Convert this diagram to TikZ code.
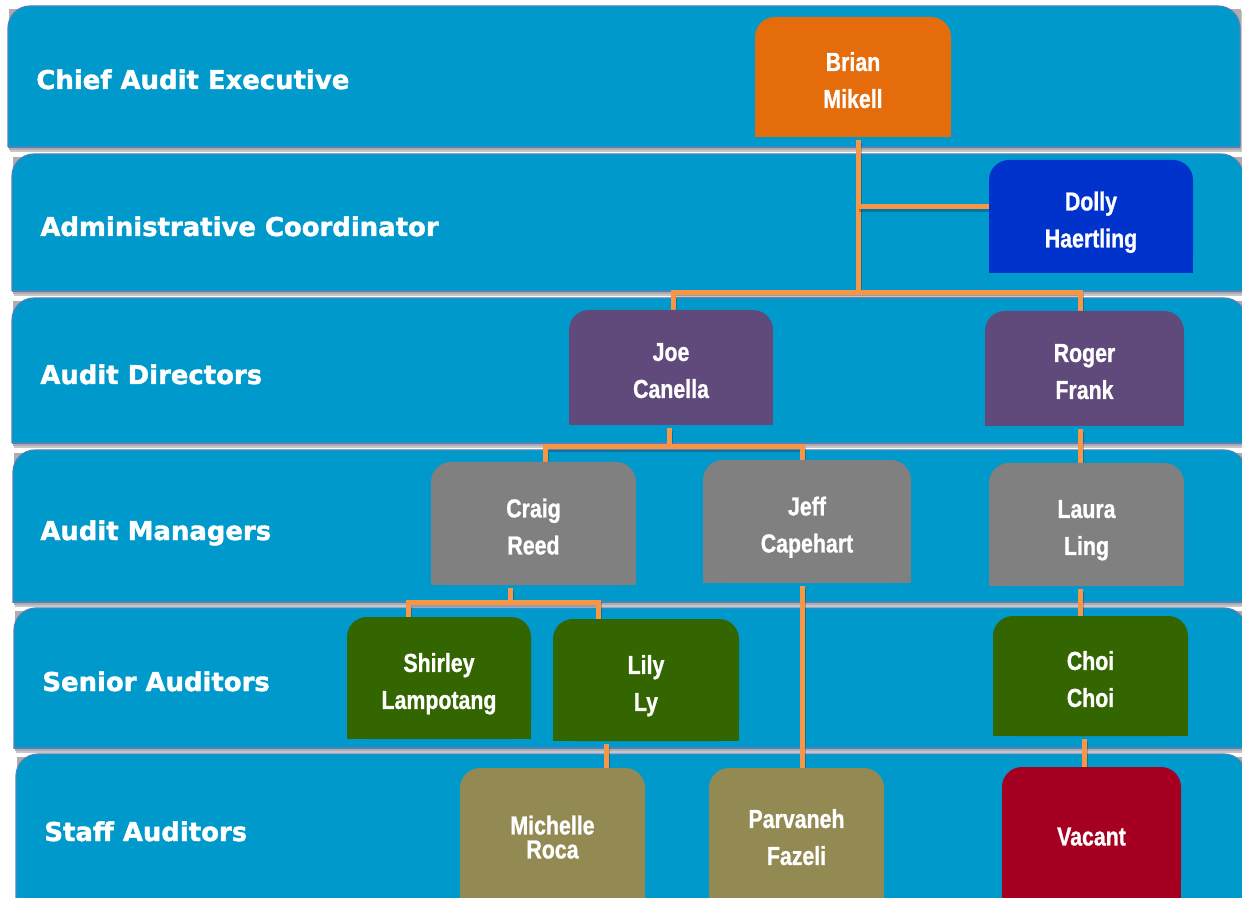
\documentclass[tikz,border=0pt]{standalone}
\usepackage{fontspec}
\setmainfont{Liberation Sans}
\newfontfamily\bandfont[BoldFeatures={FakeBold=1.6}]{DejaVu Sans}
\newfontfamily\namefont[FakeStretch=0.82, BoldFeatures={FakeBold=0.9}]{Liberation Sans}

\definecolor{bandblue}{RGB}{0,153,204}
\definecolor{bandedge}{RGB}{79,129,189}
\definecolor{linkorange}{RGB}{247,150,70}
\definecolor{ceocol}{RGB}{228,108,10}
\definecolor{admincol}{RGB}{0,51,204}
\definecolor{directorcol}{RGB}{96,74,123}
\definecolor{managercol}{RGB}{128,128,128}
\definecolor{seniorcol}{RGB}{51,102,0}
\definecolor{staffcol}{RGB}{147,137,83}
\definecolor{vacantcol}{RGB}{165,0,33}

\pgfdeclarelayer{bands}
\pgfdeclarelayer{links}
\pgfsetlayers{bands,links,main}

\tikzset{
  bandlabel/.style={inner sep=0pt, text=white, anchor=base west,
    font=\bandfont\bfseries\fontsize{12.95}{15}\selectfont},
  namebox/.style={inner sep=0pt, text=white, align=center, text depth=0pt,
    yshift=-1.5pt, font=\namefont\bfseries\fontsize{13}{18.5}\selectfont},
  link/.style={draw=linkorange, line width=2.5pt,
    preaction={draw=black, opacity=0.22, line width=2.5pt,
      transform canvas={xshift=0.6pt, yshift=-1.2pt}}},
}

% level band: name, x1, y1, x2, y2, label x, label baseline, label
\newcommand\levelband[8]{%
  \fill[black!22] ({#2+2},{#3+5}) rectangle ({#4+2},{#5+5});
  \fill[black!32] ({#2+1},{#3+3}) rectangle ({#4+1},{#5+3});
  \begin{scope}
    \clip ({#2-4},{#3-4}) rectangle ({#4+4},#5);
    \filldraw[fill=bandblue, draw=bandedge, line width=0.6pt, rounded corners=11pt]
      (#2,#3) rectangle (#4,{#5+40});
  \end{scope}
  \draw[bandedge, line width=0.6pt] (#2,#5) -- (#4,#5);
  \node[bandlabel] (#1) at (#6,#7) {#8};
}

% person box with rounded top corners: name, x1, y1, x2, y2, colour, text
\newcommand\orgbox[7]{%
  \fill[#6, rounded corners=10pt] (#2,#3) rectangle (#4,#5);
  \fill[#6] (#2,{(#3+#5)/2}) rectangle (#4,#5);
  \node[namebox, minimum width={(#4-#2)*0.5pt}, minimum height={(#5-#3)*0.5pt}]
    (#1) at ({(#2+#4)/2},{(#3+#5)/2}) {#7};
}

\begin{document}
\begin{tikzpicture}[x=0.5pt, y=-0.5pt]
  \useasboundingbox (0,0) rectangle (1242,898);
  \clip (0,0) rectangle (1242,898);

  \begin{pgfonlayer}{bands}
    \fill[white] (0,0) rectangle (1242,898);
    \levelband{lvlCAE}{8}{6}{1240}{147}{36}{89}{Chief Audit Executive}
    \levelband{lvlAC}{12}{154}{1243}{291}{40}{236}{Administrative Coordinator}
    \levelband{lvlAD}{12}{298}{1246}{443}{40}{384}{Audit Directors}
    \levelband{lvlAM}{13}{450}{1246}{602}{40}{540}{Audit Managers}
    \levelband{lvlSA}{14}{608}{1246}{748}{42}{691}{Senior Auditors}
    \levelband{lvlST}{16}{754}{1246}{910}{44}{841}{Staff Auditors}
  \end{pgfonlayer}

  % people
  \orgbox{brian}{755}{17}{951}{137}{ceocol}{Brian\\Mikell}
  \orgbox{dolly}{989}{160}{1193}{273}{admincol}{Dolly\\Haertling}
  \orgbox{joe}{569}{310}{773}{425}{directorcol}{Joe\\Canella}
  \orgbox{roger}{985}{311}{1184}{426}{directorcol}{Roger\\Frank}
  \orgbox{craig}{431}{462}{636}{585}{managercol}{Craig\\Reed}
  \orgbox{jeff}{703}{460}{911}{583}{managercol}{Jeff\\Capehart}
  \orgbox{laura}{989}{463}{1184}{586}{managercol}{Laura\\Ling}
  \orgbox{shirley}{347}{617}{531}{739}{seniorcol}{Shirley\\Lampotang}
  \orgbox{lily}{553}{619}{739}{741}{seniorcol}{Lily\\Ly}
  \orgbox{choi}{993}{616}{1188}{736}{seniorcol}{Choi\\Choi}
  \orgbox{michelle}{460}{768}{645}{900}{staffcol}{Michelle\\[-6.5pt]Roca}
  \orgbox{parvaneh}{709}{768}{884}{900}{staffcol}{Parvaneh\\Fazeli}
  \orgbox{vacant}{1002}{767}{1181}{900}{vacantcol}{Vacant}

  % junctions of the reporting lines
  \coordinate (tapAdmin) at (858,207);
  \coordinate (busA) at (858,293);
  \coordinate (busAl) at (673,293);
  \coordinate (busAr) at (1080,293);
  \coordinate (busB) at (669,447);
  \coordinate (busBl) at (545,447);
  \coordinate (busBr) at (802,447);
  \coordinate (busC) at (510,602);
  \coordinate (busCl) at (408,602);
  \coordinate (busCr) at (598,602);
  \coordinate (colLily) at (606,760);
  \coordinate (colChoi) at (1084,752);

  \begin{pgfonlayer}{links}
    \draw[link] (brian.south -| busA) -- (busA);
    \draw[link] (tapAdmin) -- (tapAdmin -| dolly.west);
    \draw[link] (joe.north -| busAl) -- (busAl) -- (busAr) -- (roger.north -| busAr);
    \draw[link] (joe.south -| busB) -- (busB);
    \draw[link] (craig.north -| busBl) -- (busBl) -- (busBr) -- (jeff.north -| busBr);
    \draw[link] (roger.south -| busAr) -- (laura.north -| busAr);
    \draw[link] (craig.south -| busC) -- (busC);
    \draw[link] (shirley.north -| busCl) -- (busCl) -- (busCr) -- (lily.north -| busCr);
    \draw[link] (jeff.south -| busBr) -- (parvaneh.north -| busBr);
    \draw[link] (laura.south -| busAr) -- (choi.north -| busAr);
    \draw[link] (lily.south -| colLily) -- (michelle.north -| colLily);
    \draw[link] (choi.south -| colChoi) -- (vacant.north -| colChoi);
  \end{pgfonlayer}
\end{tikzpicture}
\end{document}
